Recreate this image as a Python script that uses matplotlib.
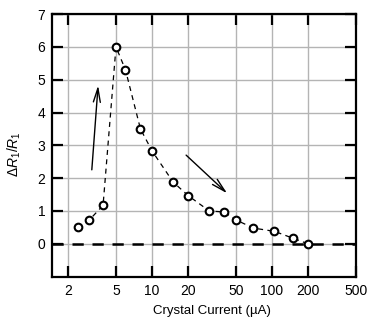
import matplotlib
matplotlib.use('Agg')
import matplotlib.pyplot as plt

plt.rcParams['font.family'] = ['Liberation Sans', 'DejaVu Sans']
plt.rcParams['mathtext.fontset'] = 'custom'
plt.rcParams['mathtext.rm'] = 'Liberation Sans'
plt.rcParams['mathtext.it'] = 'Liberation Sans:italic'

# data
current = [2.4, 3.0, 3.9, 5, 6, 8, 10, 15, 20, 30, 40, 50, 70, 105, 150, 200]
delta_r = [0.5, 0.73, 1.17, 6.0, 5.3, 3.5, 2.83, 1.88, 1.47, 1.0, 0.97, 0.73, 0.48, 0.38, 0.17, 0.0]

xticks = [2, 5, 10, 20, 50, 100, 200, 500]
yticks = [0, 1, 2, 3, 4, 5, 6, 7]


def main():
    fig = plt.figure(figsize=(3.76, 3.27), dpi=100)
    ax = fig.add_axes([0.139, 0.154, 0.807, 0.803])

    ax.set_xscale('log')
    ax.set_xlim(1.47, 500)
    ax.set_ylim(-1, 7)

    ax.set_xticks(xticks)
    ax.set_xticklabels([str(t) for t in xticks])
    ax.xaxis.set_minor_locator(matplotlib.ticker.NullLocator())
    ax.set_yticks(yticks)

    ax.grid(True, color='#b4b4b4', lw=1.0, zorder=0)
    ax.set_axisbelow(True)

    ax.tick_params(which='major', direction='in', length=8, width=1.6,
                   top=True, right=True, labelsize=10, pad=5, colors='black')
    for s in ax.spines.values():
        s.set_linewidth(1.6)

    ax.axhline(0, color='black', lw=1.8, ls=(0, (4.5, 3.5)), zorder=2)

    ax.plot(current, delta_r, color='black', lw=0.9, ls=(0, (4, 3.5)),
            marker='o', ms=5.5, mfc='white', mec='black', mew=1.5, zorder=3)

    ax.annotate('', xy=(3.56, 4.91), xytext=(3.13, 2.17),
                arrowprops=dict(arrowstyle='->, head_length=1.0, head_width=0.25',
                                color='black', lw=1.0))
    ax.annotate('', xy=(44, 1.48), xytext=(18.5, 2.76),
                arrowprops=dict(arrowstyle='->, head_length=1.0, head_width=0.25',
                                color='black', lw=1.0))

    ax.set_xlabel('Crystal Current (µA)', fontsize=9.5)
    ax.xaxis.set_label_coords(0.525, -0.108)
    ax.set_ylabel(r'$\Delta R_1/R_1$', fontsize=10)
    ax.yaxis.set_label_coords(-0.098, 0.467)

    fig.savefig('out.png', dpi=100)


if __name__ == '__main__':
    main()
